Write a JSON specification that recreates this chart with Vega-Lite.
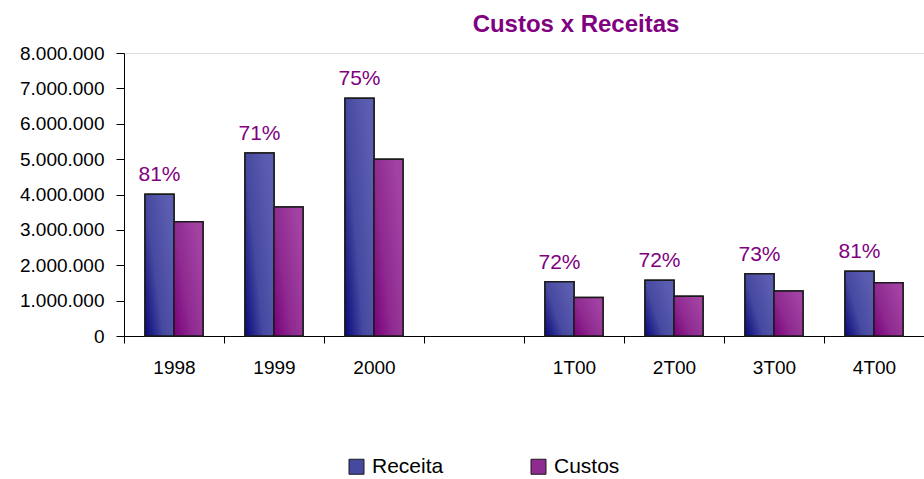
{
  "$schema": "https://vega.github.io/schema/vega-lite/v6.json",
  "width": 800,
  "height": 283,
  "autosize": {"type": "none"},
  "padding": {"left": 124, "top": 53, "right": 0, "bottom": 143},
  "background": "white",
  "title": {
    "text": "Custos x Receitas",
    "color": "#800080",
    "fontSize": 24,
    "fontWeight": "bold",
    "font": "Liberation Sans",
    "anchor": "middle",
    "frame": "group",
    "dx": 52,
    "offset": -12,
    "baseline": "alphabetic"
  },
  "data": {
    "values": [
      {"cat": "1998", "series": "Receita", "value": 4010000, "lbl": "81%"},
      {"cat": "1998", "series": "Custos", "value": 3230000, "lbl": ""},
      {"cat": "1999", "series": "Receita", "value": 5170000, "lbl": "71%"},
      {"cat": "1999", "series": "Custos", "value": 3650000, "lbl": ""},
      {"cat": "2000", "series": "Receita", "value": 6720000, "lbl": "75%"},
      {"cat": "2000", "series": "Custos", "value": 5000000, "lbl": ""},
      {"cat": "1T00", "series": "Receita", "value": 1535000, "lbl": "72%"},
      {"cat": "1T00", "series": "Custos", "value": 1090000, "lbl": ""},
      {"cat": "2T00", "series": "Receita", "value": 1574000, "lbl": "72%"},
      {"cat": "2T00", "series": "Custos", "value": 1125000, "lbl": ""},
      {"cat": "3T00", "series": "Receita", "value": 1760000, "lbl": "73%"},
      {"cat": "3T00", "series": "Custos", "value": 1275000, "lbl": ""},
      {"cat": "4T00", "series": "Receita", "value": 1830000, "lbl": "81%"},
      {"cat": "4T00", "series": "Custos", "value": 1505000, "lbl": ""}
    ]
  },
  "encoding": {
    "x": {
      "field": "cat",
      "type": "nominal",
      "sort": null,
      "scale": {
        "domain": ["1998", "1999", "2000", " ", "1T00", "2T00", "3T00", "4T00"],
        "paddingInner": 0,
        "paddingOuter": 0
      },
      "axis": {
        "title": null,
        "labelAngle": 0,
        "tickBand": "extent",
        "tickSize": 7,
        "labelPadding": 15,
        "domainColor": "#000000",
        "tickColor": "#000000",
        "labelColor": "#000000",
        "labelFont": "Liberation Sans",
        "labelFontSize": 19,
        "grid": false
      }
    },
    "xOffset": {
      "field": "series",
      "type": "nominal",
      "sort": null,
      "scale": {"domain": ["Receita", "Custos"], "paddingInner": 0, "paddingOuter": 0.724}
    },
    "y": {
      "field": "value",
      "type": "quantitative",
      "scale": {"domain": [0, 8000000], "nice": false},
      "axis": {
        "title": null,
        "grid": false,
        "values": [0, 1000000, 2000000, 3000000, 4000000, 5000000, 6000000, 7000000, 8000000],
        "labelExpr": "replace(format(datum.value, ','), /,/g, '.')",
        "tickSize": 8,
        "labelPadding": 12,
        "domainColor": "#000000",
        "tickColor": "#000000",
        "labelColor": "#000000",
        "labelFont": "Liberation Sans",
        "labelFontSize": 19
      }
    }
  },
  "layer": [
    {
      "mark": {"type": "bar", "stroke": "#1a1a1a", "strokeWidth": 1.5},
      "encoding": {
        "color": {
          "field": "series",
          "type": "nominal",
          "sort": null,
          "scale": {"domain": ["Receita", "Custos"], "range": ["#4649a0", "#8f2a90"]},
          "legend": {
            "orient": "none",
            "legendX": 222,
            "legendY": 403,
            "direction": "horizontal",
            "title": null,
            "symbolType": "square",
            "symbolSize": 225,
            "symbolStrokeColor": "#1a1a1a",
            "symbolStrokeWidth": 1,
            "symbolOpacity": 1,
            "labelFont": "Liberation Sans",
            "labelFontSize": 21,
            "labelColor": "#000000",
            "labelOffset": 5,
            "columnPadding": 84,
            "labelLimit": 200
          }
        }
      }
    },
    {
      "transform": [{"filter": "datum.series == 'Receita'"}],
      "mark": {
        "type": "bar", "stroke": "#1a1a1a", "strokeWidth": 1.5,
        "color": {"gradient": "linear", "x1": 0, "y1": 1, "x2": 1, "y2": 0.35,
          "stops": [{"offset": 0, "color": "#08087a"}, {"offset": 0.45, "color": "#4649a0"}, {"offset": 1, "color": "#5b5eb0"}]}
      },
      "encoding": {}
    },
    {
      "transform": [{"filter": "datum.series == 'Custos'"}],
      "mark": {
        "type": "bar", "stroke": "#1a1a1a", "strokeWidth": 1.5,
        "color": {"gradient": "linear", "x1": 0, "y1": 1, "x2": 1, "y2": 0.35,
          "stops": [{"offset": 0, "color": "#78007a"}, {"offset": 0.45, "color": "#8f2a90"}, {"offset": 1, "color": "#a243a3"}]}
      },
      "encoding": {}
    },
    {
      "transform": [{"filter": "datum.series == 'Receita'"}],
      "mark": {"type": "text", "dy": -13, "baseline": "alphabetic", "align": "center", "fontSize": 21, "color": "#800080", "font": "Liberation Sans"},
      "encoding": {
        "text": {"field": "lbl"}
      }
    }
  ]
}
